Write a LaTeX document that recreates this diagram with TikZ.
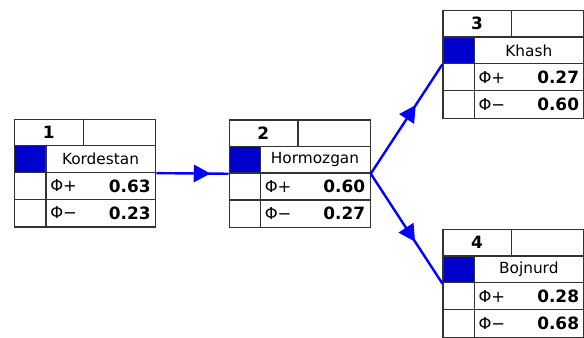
\documentclass[tikz,border=0pt]{standalone}
\usepackage{fontspec}
\setmainfont{DejaVu Sans}
\usetikzlibrary{arrows.meta,decorations.markings}
\definecolor{cellblue}{RGB}{0,0,204}
\definecolor{flowblue}{RGB}{0,0,255}
\tikzset{
	stage line/.style={line width=0.95pt, color=black!80},
	stage frame/.style={stage line, draw, anchor=north west, inner sep=0pt,
		minimum width=141*0.75pt, minimum height=4*26.9*0.75pt},
	stage num/.style={inner sep=0pt, font=\fontsize{12.7}{14}\selectfont\bfseries},
	stage name/.style={inner sep=0pt, font=\fontsize{11.5}{13}\selectfont},
	stage phi/.style={inner sep=0pt, anchor=west, font=\fontsize{12.3}{14}\selectfont},
	stage val/.style={inner sep=0pt, anchor=east, font=\fontsize{12.7}{14}\selectfont\bfseries},
	flow/.style={color=flowblue, line width=1.8pt, postaction={decorate},
		decoration={markings, mark=at position #1 with {\arrow{Triangle[length=12.5pt,width=13pt]}}}}
}
% one stage box: (name)(left,top){number}{place}{phi plus}{phi minus}
\def\stagebox(#1)(#2,#3)#4#5#6#7{%
	\fill[cellblue] (#2,#3+26.9) rectangle (#2+32,#3+2*26.9);
	\node[stage frame] (#1) at (#2,#3) {};
	\foreach \k in {1,2,3} \draw[stage line] (#2,#3+\k*26.9) -- (#2+141,#3+\k*26.9);
	\draw[stage line] (#2+69.5,#3) -- (#2+69.5,#3+26.9);
	\draw[stage line] (#2+32,#3+26.9) -- (#2+32,#3+4*26.9);
	\node[stage num] (#1-num) at (#2+34.75,#3+0.5*26.9) {#4};
	\node[stage name] (#1-name) at (#2+86.5,#3+1.5*26.9) {#5};
	\node[stage phi] (#1-pl) at (#2+36,#3+2.5*26.9) {Φ+};
	\node[stage val] (#1-plv) at (#2+137,#3+2.5*26.9) {#6};
	\node[stage phi] (#1-mi) at (#2+36,#3+3.5*26.9) {Φ−};
	\node[stage val] (#1-miv) at (#2+137,#3+3.5*26.9) {#7};
}

\begin{document}
\begin{tikzpicture}[x=0.75pt, y=-0.75pt]
		%%%%% START %%%%%
		\useasboundingbox (0,0) rectangle (584,337);
		
		\stagebox(kord)(14,118.7){1}{Kordestan}{0.63}{0.23}
		\stagebox(horm)(228.5,119.3){2}{Hormozgan}{0.60}{0.27}
		\stagebox(khash)(442.3,10){3}{Khash}{0.27}{0.60}
		\stagebox(bojn)(442.3,229){4}{Bojnurd}{0.28}{0.68}
		
		\draw[flow=0.75] (kord.east) -- (horm.west);
		\draw[flow=0.63] (horm.east) -- (khash.west);
		\draw[flow=0.62] (horm.east) -- (bojn.west);
		
		%%%%% END %%%%%
	\end{tikzpicture}
\end{document}
